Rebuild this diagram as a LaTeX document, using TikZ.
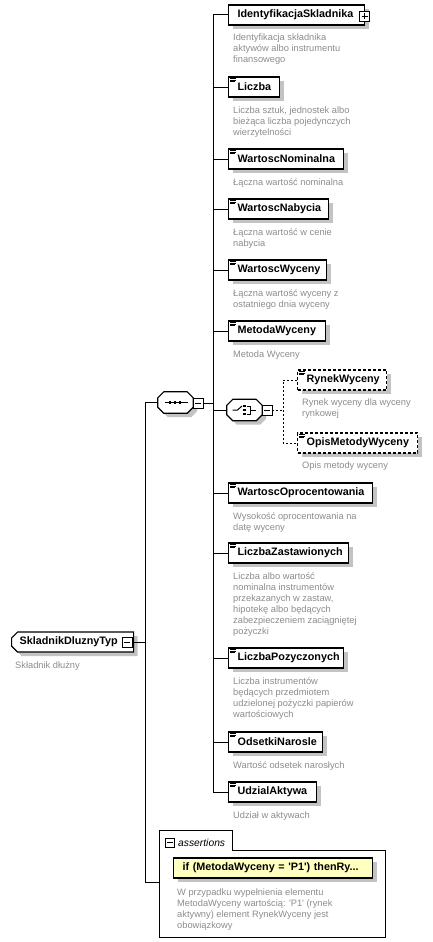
\documentclass[tikz,border=0pt]{standalone}
\usepackage{fontspec}
\setmainfont{Liberation Sans}
\usetikzlibrary{shapes.misc,shadows,calc}
\definecolor{shd}{RGB}{195,195,195}
\definecolor{desc}{RGB}{140,140,140}
\definecolor{asy}{RGB}{255,255,192}
\newcommand\elf{\fontsize{10.8}{12}\selectfont\bfseries\hyphenpenalty=10000\exhyphenpenalty=10000}
\newcommand\dsf{\fontsize{9.3}{11}\selectfont}
\newcommand\qs{\textquotesingle}
\newcommand\eqicon[1]{%
  \draw[line width=0.5pt] ([shift={(2,2.0)}]#1.north west) -- ++(6,0)
    ([shift={(2,3.6)}]#1.north west) -- ++(6,0)
    ([shift={(2,5.2)}]#1.north west) -- ++(4.5,0);}
\newcommand\minusin[1]{\draw[line width=0.8pt] ([xshift=-3pt]#1.center) -- ([xshift=3pt]#1.center);}
\newcommand\plusin[1]{\minusin{#1}\draw[line width=0.8pt] ([yshift=-3pt]#1.center) -- ([yshift=3pt]#1.center);}
\newcommand\octpath[2]{([xshift=#2]#1.north west) -- ([xshift=-#2]#1.north east) -- ([yshift=-#2]#1.north east) -- ([yshift=#2]#1.south east) -- ([xshift=-#2]#1.south east) -- ([xshift=#2]#1.south west) -- ([yshift=#2]#1.south west) -- ([yshift=-#2]#1.north west) -- cycle}
\newcommand\octdraw[1]{%
  \fill[shd, transform canvas={shift={(4pt,-4pt)}}] \octpath{#1}{6pt};
  \draw[line width=1.2pt, fill=white] \octpath{#1}{6pt};}
\tikzset{
  shad/.style={drop shadow={shadow xshift=4pt,shadow yshift=-4pt,fill=shd,opacity=1}},
  elem/.style={draw, line width=1.2pt, fill=white, shad, rectangle, inner xsep=9pt, inner ysep=0pt,
    minimum height=20pt, anchor=west, align=left, font=\elf},
  optelem/.style={elem, dash pattern=on 3pt off 2pt},
  desc/.style={text=desc, font=\dsf, anchor=base west, align=left, inner sep=0pt},
  xbox/.style={draw, line width=0.8pt, fill=white, minimum size=10pt, inner sep=0pt},
  octo/.style={rectangle, draw=none, minimum width=35pt, minimum height=21pt, inner sep=0pt},
  conn/.style={line width=1pt},
  dconn/.style={line width=0.9pt, dash pattern=on 2pt off 2pt},
}
\begin{document}
\begin{tikzpicture}[x=1pt,y=-1pt]
\useasboundingbox (0,0) rectangle (432,942);
\coordinate (busA) at (145,0);
\coordinate (busB) at (213,0);
\coordinate (busC) at (283,0);
% root
\node[chamfered rectangle, chamfered rectangle corners={north west,south west},
  chamfered rectangle xsep=3pt, chamfered rectangle ysep=3pt, draw, line width=1.2pt, fill=white, shad,
  inner xsep=5pt, inner ysep=0pt, minimum height=20pt, text width=106pt, align=left, font=\elf, anchor=west]
  (root) at (11,642) {SkladnikDluznyTyp};
\node[xbox] (rootx) at (127,642) {};
\minusin{rootx}
\node[desc] (rootd) at (15,668) {Składnik dłużny};
% sequence
\node[octo] (seq) at (175.5,402.5) {};
\octdraw{seq}
\draw[line width=1pt] ([xshift=-11pt]seq.center) -- ([xshift=12pt]seq.center);
\foreach \dx in {-5.5,-0.5,4.5}{\fill ([shift={(\dx-1.4,-1.4)}]seq.center) rectangle ++(2.8,2.8);}
\node[xbox] (seqx) at (198,403) {};
\minusin{seqx}
% children
\node[elem, text width=118pt] (ident) at (228,15) {IdentyfikacjaSkladnika};
\node[xbox] (identx) at (364.5,16) {};
\plusin{identx}
\node[desc] (identd) at (233,63) {Identyfikacja składnika\\aktywów albo instrumentu\\finansowego};

\node[elem, text width=33pt] (liczba) at (228,87) {Liczba};
\eqicon{liczba}
\node[desc] (liczbad) at (233,135) {Liczba sztuk, jednostek albo\\bieżąca liczba pojedynczych\\wierzytelności};

\node[elem, text width=97pt] (wnom) at (228,159) {WartoscNominalna};
\eqicon{wnom}
\node[desc] (wnomd) at (233,185) {Łączna wartość nominalna};

\node[elem, text width=82pt] (wnab) at (228,209) {WartoscNabycia};
\eqicon{wnab}
\node[desc] (wnabd) at (233,246) {Łączna wartość w cenie\\nabycia};

\node[elem, text width=80pt] (wwyc) at (228,270) {WartoscWyceny};
\eqicon{wwyc}
\node[desc] (wwycd) at (233,307) {Łączna wartość wyceny z\\ostatniego dnia wyceny};

\node[elem, text width=79pt] (mwyc) at (228,331) {MetodaWyceny};
\eqicon{mwyc}
\node[desc] (mwycd) at (233,357) {Metoda Wyceny};

% choice
\node[octo] (choice) at (244.5,410) {};
\octdraw{choice}
\draw[line width=1pt] ([shift={(-12,0)}]choice.center) -- ([shift={(-7,0)}]choice.center) -- ([shift={(-2.5,-4)}]choice.center);
\foreach \dy in {-4,0,4}{\fill ([shift={(-1.2,\dy-1.2)}]choice.center) rectangle ++(2.4,2.4);}
\draw[line width=1pt] ([shift={(2.5,-4)}]choice.center) -- ([shift={(6,-4)}]choice.center) -- ([shift={(6,4)}]choice.center) -- ([shift={(2.5,4)}]choice.center)
  ([shift={(6,0)}]choice.center) -- ([shift={(11,0)}]choice.center);
\node[xbox] (choicex) at (267,410) {};
\minusin{choicex}

\node[optelem, text width=71pt] (rynek) at (297,380) {RynekWyceny};
\eqicon{rynek}
\node[desc] (rynekd) at (302,416) {Rynek wyceny dla wyceny\\rynkowej};
\node[optelem, text width=102pt] (opis) at (297,443) {OpisMetodyWyceny};
\eqicon{opis}
\node[desc] (opisd) at (302,468) {Opis metody wyceny};

\node[elem, text width=126pt] (wopr) at (228,493) {WartoscOprocentowania};
\eqicon{wopr}
\node[desc] (woprd) at (233,530) {Wysokość oprocentowania na\\datę wyceny};

\node[elem, text width=102pt] (lzas) at (228,553) {LiczbaZastawionych};
\eqicon{lzas}
\node[desc] (lzasd) at (233,634) {Liczba albo wartość\\nominalna instrumentów\\przekazanych w zastaw,\\hipotekę albo będących\\zabezpieczeniem zaciągniętej\\pożyczki};

\node[elem, text width=97pt] (lpoz) at (228,658) {LiczbaPozyczonych};
\eqicon{lpoz}
\node[desc] (lpozd) at (233,717) {Liczba instrumentów\\będących przedmiotem\\udzielonej pożyczki papierów\\wartościowych};

\node[elem, text width=76pt] (odse) at (228,742) {OdsetkiNarosle};
\eqicon{odse}
\node[desc] (odsed) at (233,768) {Wartość odsetek narosłych};

\node[elem, text width=70pt] (udzi) at (228,792) {UdzialAktywa};
\eqicon{udzi}
\node[desc] (udzid) at (233,818) {Udział w aktywach};

% assertions
\draw[line width=0.8pt] (159,830) -- (232,830) -- (232,850) -- (385,850) -- (385,937) -- (159,937) -- cycle;
\coordinate (asw) at (159,882);
\node[xbox, minimum size=9pt] (asx) at (169.5,842.5) {};
\minusin{asx}
\node[anchor=base west, inner sep=0pt, font=\fontsize{10.3}{12}\selectfont\itshape] (astitle) at (178,846) {assertions};
\node[elem, fill=asy, text width=181pt] (assert1) at (173,868) {if (MetodaWyceny = \qs P1\qs) thenRy...};
\node[desc] (assertd) at (177,928) {W przypadku wypełnienia elementu\\MetodaWyceny wartością: \qs P1\qs{} (rynek\\aktywny) element RynekWyceny jest\\obowiązkowy};

% connectors
\draw[conn] (rootx.east) -- (busA |- rootx.east);
\draw[conn] (seq.west) -- (busA |- seq.west) -- (busA |- asw) -- (asw);
\draw[conn] (seqx.east) -- (busB |- seqx.east);
\draw[conn] (busB |- ident.west) -- (busB |- udzi.west);
\foreach \n in {ident,liczba,wnom,wnab,wwyc,mwyc,choice,wopr,lzas,lpoz,odse,udzi}{
  \draw[conn] (busB |- \n.west) -- (\n.west);}
\draw[dconn] (choicex.east) -- (busC |- choicex.east);
\draw[dconn] (rynek.west) -- (busC |- rynek.west) -- (busC |- opis.west) -- (opis.west);
\end{tikzpicture}
\end{document}
